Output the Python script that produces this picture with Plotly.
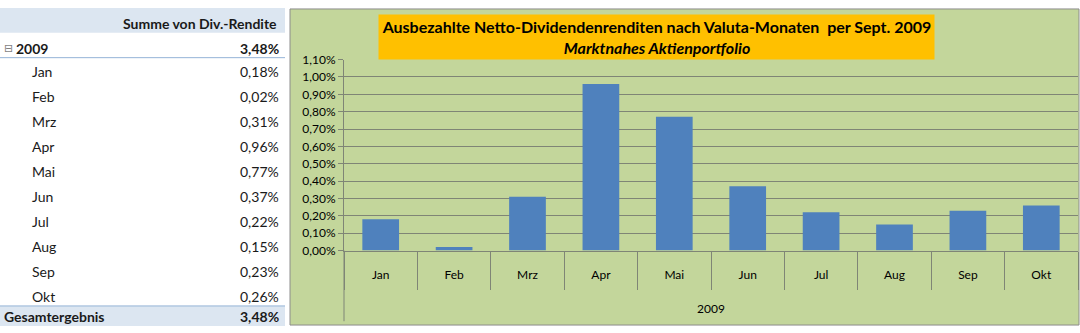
import plotly.graph_objects as go

W, H = 1080, 333

# ---- data ----
months = ["Jan", "Feb", "Mrz", "Apr", "Mai", "Jun", "Jul", "Aug", "Sep", "Okt"]
rendite_pct = [0.18, 0.02, 0.31, 0.96, 0.77, 0.37, 0.22, 0.15, 0.23, 0.26]
year_label = "2009"
total_pct = 3.48
table_header = "Summe von Div.-Rendite"
total_label = "Gesamtergebnis"
title_line1 = "Ausbezahlte Netto-Dividendenrenditen nach Valuta-Monaten  per Sept. 2009"
title_line2 = "Marktnahes Aktienportfolio"

FONT = "Lato"
GREEN = "#C3D69B"
BAR = "#4F81BD"
GRID = "#7F8576"


def px(x):
    return x / W


def py(y):
    return 1 - y / H


def fmt(v):
    return f"{v:.2f}".replace(".", ",") + "%"


fig = go.Figure()

values = [v / 100 for v in rendite_pct]

fig.add_trace(go.Bar(x=months, y=values, marker=dict(color=BAR, line=dict(width=0)),
                     width=0.5, xaxis="x", yaxis="y", hoverinfo="skip", showlegend=False))
# invisible trace on the divider axis
fig.add_trace(go.Scatter(x=months, y=values, mode="markers", marker=dict(opacity=0),
                         xaxis="x2", yaxis="y", hoverinfo="skip", showlegend=False))

shapes = []
# chart area background
shapes.append(dict(type="rect", xref="paper", yref="paper", x0=px(290), x1=px(1079),
                   y0=py(332), y1=py(1), fillcolor=GREEN, line=dict(color="#8C8C8C", width=1),
                   layer="below"))
# y-axis extension through the category area
shapes.append(dict(type="line", xref="x domain", yref="paper", x0=0, x1=0,
                   y0=py(254), y1=py(328), line=dict(color=GRID, width=1)))
# table decorations
shapes.append(dict(type="rect", xref="paper", yref="paper", x0=0, x1=px(285),
                   y0=py(26), y1=py(0), fillcolor="#DCE6F1", line=dict(width=0), layer="below"))
shapes.append(dict(type="line", xref="paper", yref="paper", x0=0, x1=px(285),
                   y0=py(52), y1=py(52), line=dict(color="#95B3D7", width=1)))
shapes.append(dict(type="rect", xref="paper", yref="paper", x0=0, x1=px(285),
                   y0=py(333), y1=py(312), fillcolor="#DCE6F1", line=dict(width=0), layer="below"))
shapes.append(dict(type="line", xref="paper", yref="paper", x0=0, x1=px(285),
                   y0=py(312), y1=py(312), line=dict(color="#95B3D7", width=1)))

ann = []
tf = dict(family=FONT, size=14, color="#1A1A1A")
ann.append(dict(text=f"<b>{table_header}</b>", x=px(279), y=py(16), xref="paper", yref="paper",
                xanchor="right", yanchor="middle", showarrow=False, font=tf))
ann.append(dict(text="⊟", x=px(2), y=py(42), xref="paper", yref="paper",
                xanchor="left", yanchor="middle", showarrow=False,
                font=dict(family="DejaVu Sans", size=11, color="#7F7F7F")))
ann.append(dict(text=f"<b>{year_label}</b>", x=px(14), y=py(42), xref="paper", yref="paper",
                xanchor="left", yanchor="middle", showarrow=False, font=tf))
ann.append(dict(text=f"<b>{fmt(total_pct)}</b>", x=px(281), y=py(42), xref="paper", yref="paper",
                xanchor="right", yanchor="middle", showarrow=False, font=tf))
for i, (m, v) in enumerate(zip(months, rendite_pct)):
    yc = 67 + 26.1 * i
    ann.append(dict(text=m, x=px(30), y=py(yc), xref="paper", yref="paper",
                    xanchor="left", yanchor="middle", showarrow=False, font=tf))
    ann.append(dict(text=fmt(v), x=px(281), y=py(yc), xref="paper", yref="paper",
                    xanchor="right", yanchor="middle", showarrow=False, font=tf))
ann.append(dict(text=f"<b>{total_label}</b>", x=px(2), y=py(323), xref="paper", yref="paper",
                xanchor="left", yanchor="middle", showarrow=False, font=tf))
ann.append(dict(text=f"<b>{fmt(total_pct)}</b>", x=px(281), y=py(323), xref="paper", yref="paper",
                xanchor="right", yanchor="middle", showarrow=False, font=tf))

# chart title box
ann.append(dict(text=f"<b>{title_line1}</b><br><b><i>{title_line2}</i></b>",
                x=px((378 + 935) / 2), y=py((8 + 53) / 2), xref="paper", yref="paper",
                xanchor="center", yanchor="middle", showarrow=False, align="center",
                width=555, height=44, borderpad=0, bgcolor="#FFC000",
                font=dict(family=FONT, size=16, color="#000000")))

fig.update_layout(
    width=W, height=H, margin=dict(l=0, r=0, t=0, b=0),
    paper_bgcolor="white", plot_bgcolor="rgba(0,0,0,0)",
    separators=",.",
    bargap=0.5,
    font=dict(family=FONT, size=11, color="#000000"),
    xaxis=dict(domain=[px(344), px(1078)], anchor="y", type="category",
               categoryorder="array", categoryarray=months, range=[-0.5, 9.5],
               showline=True, linecolor=GRID, linewidth=1, ticks="",
               showgrid=False, zeroline=False,
               tickfont=dict(family=FONT, size=12, color="#000000"),
               ticklabelstandoff=13,
               title=dict(text=year_label, standoff=23,
                          font=dict(family=FONT, size=12, color="#000000"))),
    xaxis2=dict(domain=[px(344), px(1078)], anchor="y", overlaying="x", type="category",
                categoryorder="array", categoryarray=months, range=[-0.5, 9.5],
                showticklabels=False, ticks="outside", ticklen=38, tickson="boundaries",
                tickcolor=GRID, tickwidth=1, showgrid=False, showline=False, zeroline=False),
    yaxis=dict(domain=[py(254), py(54)], range=[0, 0.011], dtick=0.001, tick0=0,
               tickformat=".2%", showgrid=True, gridcolor=GRID, gridwidth=1,
               showline=True, linecolor=GRID, linewidth=1, zeroline=False,
               ticks="outside", ticklen=5, tickcolor=GRID,
               tickfont=dict(family=FONT, size=12, color="#000000")),
    shapes=shapes,
    annotations=ann,
)

fig.write_html("out.html")
